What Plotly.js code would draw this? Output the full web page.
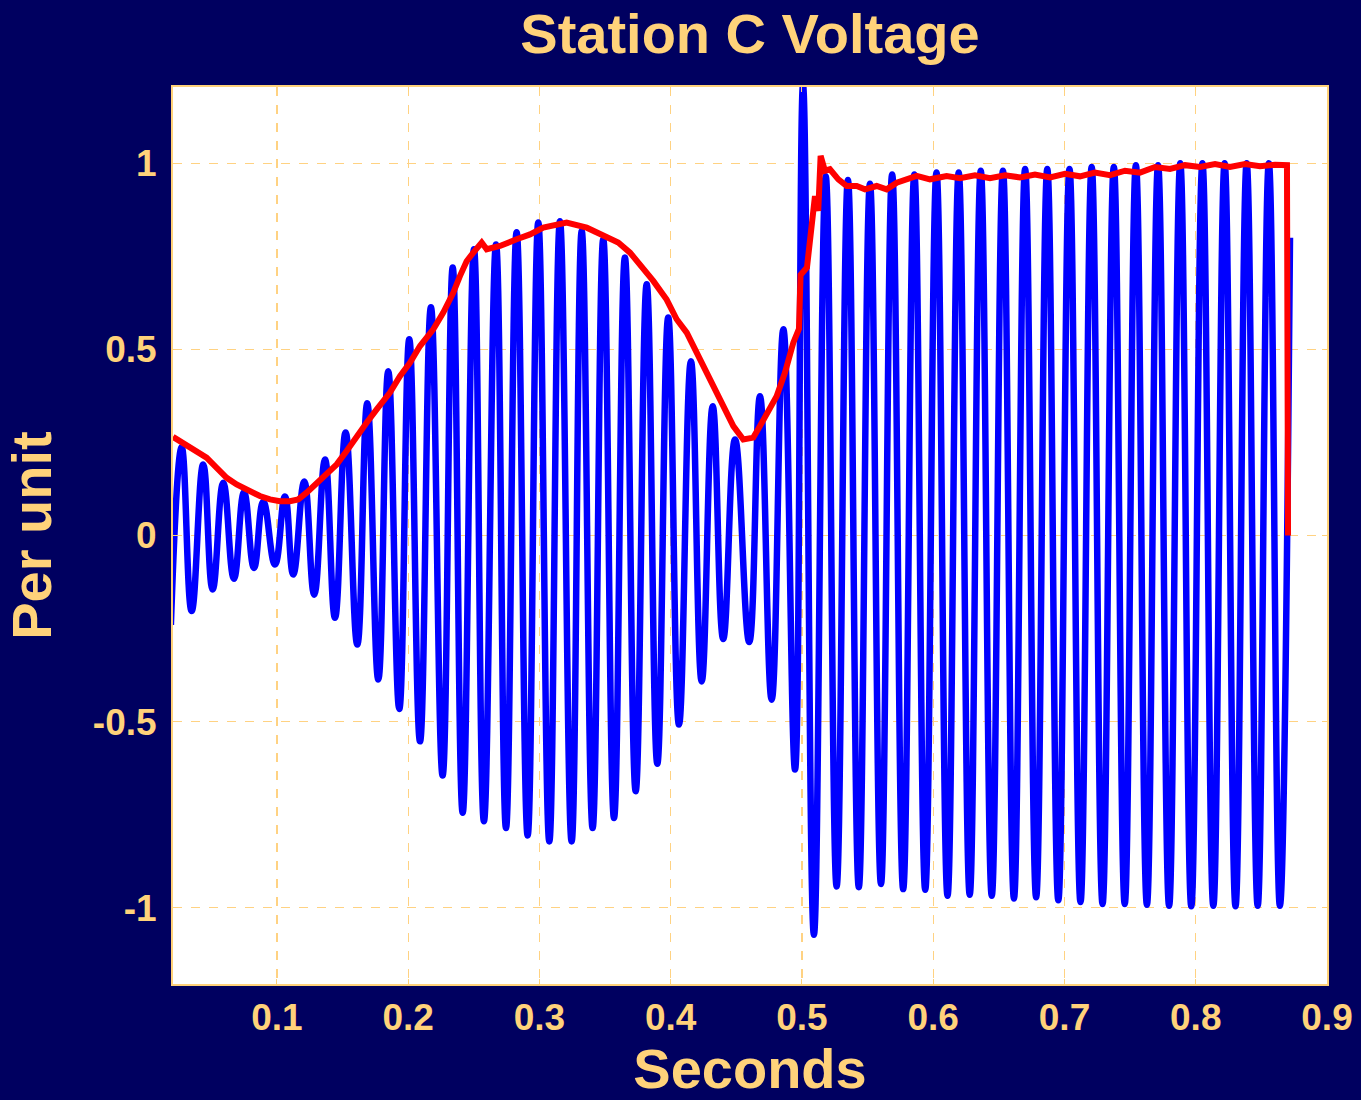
<!DOCTYPE html>
<html>
<head>
<meta charset="utf-8">
<script src="https://cdn.plot.ly/plotly-3.0.1.min.js"></script>
<style>html,body{margin:0;padding:0;background:#000060;}#chart{width:1361px;height:1100px;}</style>
</head>
<body>
<div id="chart"></div>
<script>
// Blue waveform: per-cycle peak and trough readings (time in s, value in per unit)
const peakTimes = [0.0274,0.0438,0.0591,0.0749,0.0896,0.1061,0.1208,0.1366,0.1523,0.1688,0.1848,0.2008,0.2173,0.2339,0.2501,0.2669,0.2826,0.2991,0.3156,0.3322,0.3486,0.3651,0.3817,0.3981,0.4154,0.4320,0.4490,0.4680,0.4858,0.5008,
  0.5181,0.5350,0.5518,0.5687,0.5856,0.6025,0.6194,0.6362,0.6531,0.6700,0.6869,0.7038,0.7207,0.7376,0.7544,0.7713,0.7882,0.8051,0.8220,0.8388,0.8557,0.8718];
const peakValues = [0.237,0.191,0.142,0.116,0.091,0.105,0.145,0.204,0.277,0.355,0.441,0.527,0.613,0.720,0.769,0.782,0.815,0.841,0.844,0.818,0.796,0.747,0.675,0.586,0.468,0.347,0.258,0.374,0.554,1.21,
  0.965,0.955,0.945,0.970,0.970,0.975,0.975,0.980,0.980,0.985,0.985,0.985,0.990,0.990,0.995,0.995,1.0,1.0,1.0,1.0,1.0,0.80];
const troughTimes = [0.0192,0.0350,0.0510,0.0672,0.0825,0.0985,0.1124,0.1284,0.1442,0.1612,0.1772,0.1932,0.2090,0.2262,0.2415,0.2577,0.2745,0.2910,0.3075,0.3245,0.3405,0.3568,0.3733,0.3898,0.4063,0.4236,0.4400,0.4598,0.4769,0.4947,0.5091,
  0.5264,0.5433,0.5602,0.5771,0.5939,0.6109,0.6278,0.6446,0.6615,0.6784,0.6953,0.7122,0.7290,0.7459,0.7628,0.7797,0.7966,0.8134,0.8303,0.8472,0.8641];
const troughValues = [-0.24,-0.203,-0.145,-0.116,-0.087,-0.078,-0.105,-0.159,-0.221,-0.293,-0.387,-0.466,-0.553,-0.645,-0.745,-0.768,-0.786,-0.806,-0.822,-0.822,-0.786,-0.759,-0.687,-0.613,-0.508,-0.392,-0.278,-0.286,-0.441,-0.629,-1.073,
  -0.943,-0.945,-0.936,-0.950,-0.952,-0.968,-0.965,-0.968,-0.975,-0.972,-0.980,-0.985,-0.990,-0.990,-0.992,-0.995,-0.996,-0.995,-0.996,-0.995,-0.995];

// Red envelope readings
const envTimes = [0.0208,0.0299,0.0388,0.0464,0.0541,0.0617,0.0693,0.0794,0.0870,0.0947,0.1023,0.1099,0.1162,0.1226,0.1302,0.1379,0.1455,0.1531,0.1607,0.1683,0.1760,0.1861,0.1937,0.2013,0.2090,0.2191,0.2267,0.2343,0.2394,0.2445,0.2496,0.2560,0.2598,0.2699,0.2826,0.2928,0.3029,0.3131,0.3207,0.3360,0.3486,0.3600,0.3690,0.3766,0.3867,0.3969,0.4045,0.4122,0.4172,0.4248,0.4324,0.4400,0.4477,0.4553,0.4629,0.4680,0.4743,0.4807,0.4870,0.4934,0.4977,0.4989,0.5038,0.5074,0.5099,0.5124,0.5142,0.5175,0.5213,0.5277,0.5341,0.5417,0.5480,0.5569,0.5645,0.5722,0.5798,0.5874,0.5975,0.6102,0.6204,0.6318,0.6432,0.6547,0.6661,0.6775,0.6890,0.7004,0.7118,0.7232,0.7347,0.7461,0.7575,0.7690,0.7804,0.7918,0.8032,0.8147,0.8261,0.8375,0.8490,0.8604,0.8695,0.8703];
const envValues = [0.265,0.245,0.229,0.209,0.182,0.155,0.137,0.119,0.106,0.097,0.092,0.092,0.097,0.115,0.142,0.164,0.191,0.227,0.267,0.303,0.339,0.384,0.428,0.464,0.509,0.554,0.599,0.652,0.697,0.737,0.760,0.787,0.769,0.778,0.796,0.809,0.827,0.836,0.841,0.827,0.805,0.787,0.760,0.728,0.684,0.634,0.581,0.545,0.509,0.455,0.401,0.348,0.294,0.258,0.263,0.294,0.330,0.374,0.437,0.518,0.555,0.700,0.720,0.849,0.912,0.872,1.020,0.980,0.984,0.957,0.939,0.939,0.930,0.939,0.930,0.948,0.957,0.966,0.957,0.966,0.960,0.968,0.960,0.968,0.962,0.970,0.962,0.972,0.965,0.975,0.968,0.980,0.975,0.990,0.985,0.995,0.990,0.998,0.990,0.998,0.992,0.996,0.995,0.0];

// Axis ticks
const xTickVals = [0.1,0.2,0.3,0.4,0.5,0.6,0.7,0.8,0.9];
const xTickText = ['0.1','0.2','0.3','0.4','0.5','0.6','0.7','0.8','0.9'];
const yTickVals = [-1,-0.5,0,0.5,1];
const yTickText = ['-1','-0.5','0','0.5','1'];

// Merge peaks and troughs in time order
const wave = [];
peakTimes.forEach((t,i)=>wave.push([t,peakValues[i]]));
troughTimes.forEach((t,i)=>wave.push([t,troughValues[i]]));
wave.sort((a,b)=>a[0]-b[0]);

const GOLD = '#FFD27A';
const FONT = 'Liberation Sans, Arial, sans-serif';

const traces = [
  {x: wave.map(p=>p[0]), y: wave.map(p=>p[1]), type:'scatter', mode:'lines',
   line:{color:'#0000FF', width:6.5, shape:'spline', smoothing:1.3, simplify:false}, hoverinfo:'skip', showlegend:false},
  {x: envTimes, y: envValues, type:'scatter', mode:'lines',
   line:{color:'#FF0000', width:6}, hoverinfo:'skip', showlegend:false}
];

const axisCommon = {
  showgrid:true, gridcolor:'#FFD282', griddash:'dash', gridwidth:1.2,
  zeroline:false, showline:true, linecolor:GOLD, linewidth:2, mirror:'ticks',
  ticks:'inside', ticklen:5, tickcolor:GOLD,
  tickfont:{family:FONT, size:37, color:GOLD, weight:'bold'}
};

const layout = {
  width:1361, height:1100,
  paper_bgcolor:'#000060', plot_bgcolor:'#FFFFFF',
  margin:{l:173, r:34, t:87, b:116},
  title:{text:'Station C Voltage', font:{family:FONT, size:56, color:GOLD, weight:'bold'},
         xref:'paper', x:0.5, xanchor:'center', yref:'container', y:0.97, yanchor:'middle'},
  xaxis: Object.assign({}, axisCommon, {
    range:[0.0208, 0.9], tickvals:xTickVals, ticktext:xTickText,
    title:{text:'Seconds', font:{family:FONT, size:56, color:GOLD, weight:'bold'}, standoff:14}
  }),
  yaxis: Object.assign({}, axisCommon, {
    range:[-1.205, 1.205], tickvals:yTickVals, ticktext:yTickText, ticklabelstandoff:7,
    title:{text:'Per unit', font:{family:FONT, size:56, color:GOLD, weight:'bold'}, standoff:26}
  })
};

Plotly.newPlot('chart', traces, layout, {displayModeBar:false, staticPlot:true});
</script>
</body>
</html>
